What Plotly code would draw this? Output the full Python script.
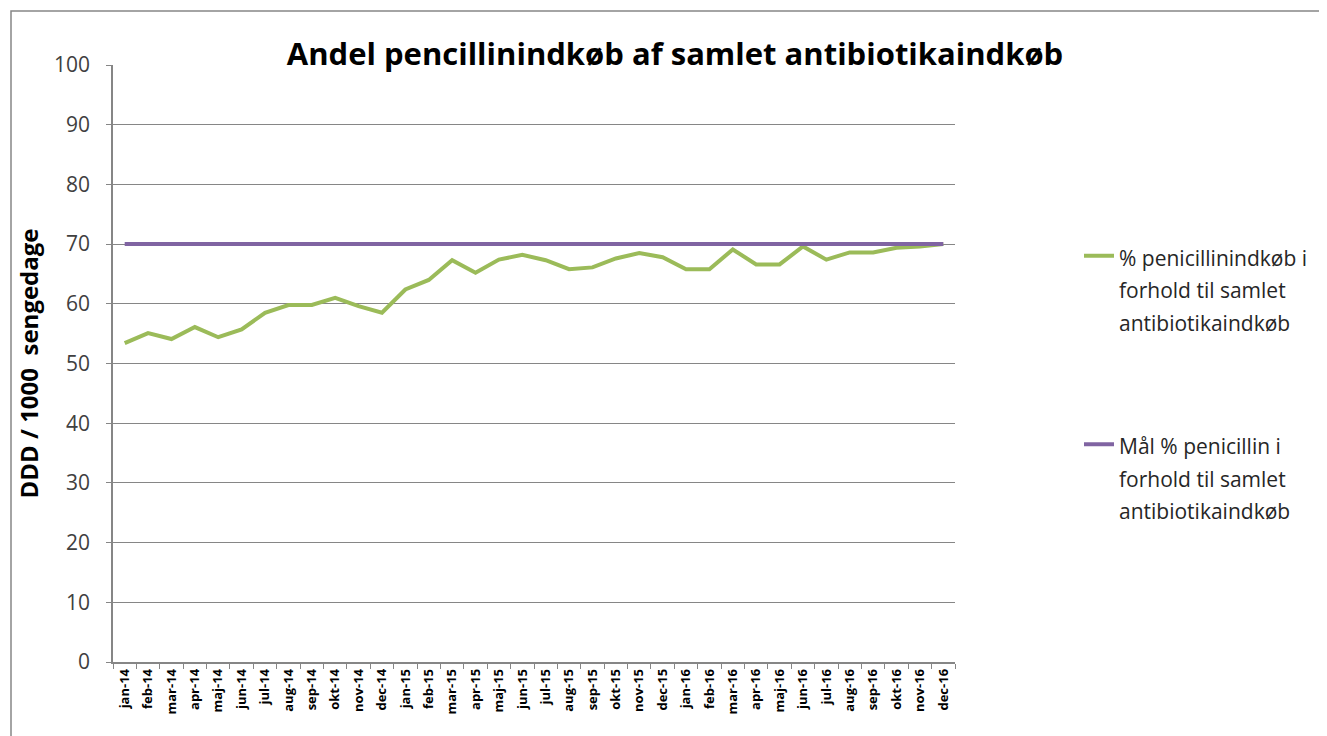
import plotly.graph_objects as go

months = ["jan-14","feb-14","mar-14","apr-14","maj-14","jun-14","jul-14","aug-14","sep-14","okt-14","nov-14","dec-14",
          "jan-15","feb-15","mar-15","apr-15","maj-15","jun-15","jul-15","aug-15","sep-15","okt-15","nov-15","dec-15",
          "jan-16","feb-16","mar-16","apr-16","maj-16","jun-16","jul-16","aug-16","sep-16","okt-16","nov-16","dec-16"]
penicillin_share = [53.4, 55.1, 54.1, 56.1, 54.4, 55.7, 58.5, 59.8, 59.8, 61.0, 59.6, 58.5,
                    62.4, 64.0, 67.3, 65.2, 67.4, 68.2, 67.3, 65.8, 66.1, 67.6, 68.5, 67.8,
                    65.8, 65.8, 69.1, 66.6, 66.6, 69.6, 67.4, 68.6, 68.6, 69.4, 69.6, 70.0]
target_share = [70] * 36
y_ticks = [0, 10, 20, 30, 40, 50, 60, 70, 80, 90, 100]

def legend_text(lines):
    return "<br>".join("<span style='font-size:21px'>%s</span>" % s for s in lines)

name1 = legend_text(["% penicillinindkøb i", "forhold til samlet", "antibiotikaindkøb"])
name2 = legend_text(["Mål % penicillin i", "forhold til samlet", "antibiotikaindkøb"])

FONT = "'Open Sans', Lato, sans-serif"

fig = go.Figure()
fig.add_trace(go.Scatter(x=months, y=penicillin_share, mode="lines", name=name1,
                         line=dict(color="#9BBB59", width=4), legendgroup="a"))
fig.add_trace(go.Scatter(x=months, y=target_share, mode="lines", name=name2,
                         line=dict(color="#8064A2", width=4), legendgroup="b"))

OFF = 8  # browser default body margin
W, H = 1327 - OFF, 736 - OFF
L, R, T, B = 113 - OFF, 955 - OFF, 65 - OFF, 662 - OFF
pw, ph = R - L, B - T

def px_x(p):
    return (p - OFF - L) / pw

def px_y(p):
    return (B - (p - OFF)) / ph

fig.update_layout(
    width=W, height=H,
    margin=dict(l=L, r=W - R, t=T, b=H - B, autoexpand=False),
    paper_bgcolor="white", plot_bgcolor="white",
    font=dict(family=FONT, color="#404040"),
    title=dict(text="<b>Andel pencillinindkøb af samlet antibiotikaindkøb</b>",
               x=(675 - OFF) / W, xanchor="center", y=1 - (54 - OFF) / H, yanchor="middle",
               font=dict(size=31, color="#000000", family=FONT)),
    showlegend=True,
    legend=dict(x=px_x(1079), xanchor="left", y=px_y(233), yanchor="top",
                font=dict(size=25, color="#262626", family=FONT), valign="top",
                tracegroupgap=88, bgcolor="rgba(0,0,0,0)"),
    xaxis=dict(type="category", range=[-0.5, 35.5], tickangle=-90,
               tickfont=dict(size=13, color="#000000", family=FONT, weight="bold"),
               showgrid=False, showline=True, linecolor="#868686", linewidth=1.5,
               ticks="outside", ticklen=5, tickcolor="#868686", tickson="boundaries"),
    yaxis=dict(range=[0, 100], tickvals=y_ticks, showgrid=True, gridcolor="#868686", gridwidth=1,
               showline=True, linecolor="#868686", linewidth=1.5, ticks="outside", ticklen=5,
               tickcolor="#868686", tickfont=dict(size=21, color="#404040", family=FONT),
               ticklabelstandoff=12, zeroline=False,
               title=dict(text="<b>DDD / 1000  sengedage</b>", standoff=9,
                          font=dict(size=24, color="#000000", family=FONT))),
    shapes=[dict(type="rect", xref="paper", yref="paper",
                 x0=px_x(11), x1=px_x(1400), y0=px_y(800), y1=px_y(11),
                 line=dict(color="#868686", width=1.5), fillcolor="rgba(0,0,0,0)", layer="below")],
)

fig.write_html("out.html")
